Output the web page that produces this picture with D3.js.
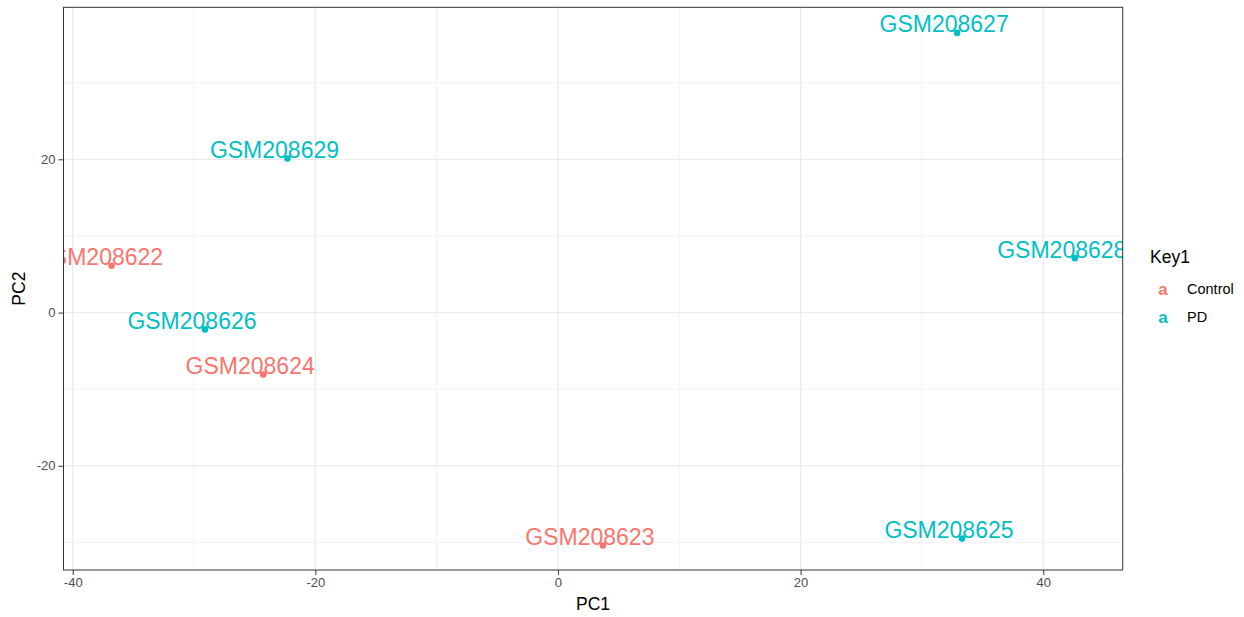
<!DOCTYPE html>
<html>
<head>
<meta charset="utf-8">
<script src="https://cdn.jsdelivr.net/npm/d3@7"></script>
<style>
  body { margin: 0; background: #fff; }
  text { font-family: "Liberation Sans", Arial, sans-serif; }
</style>
</head>
<body>
<svg id="chart" width="1244" height="617"></svg>
<script>
// sample data
var samples = ["GSM208629", "GSM208622", "GSM208626", "GSM208624", "GSM208623", "GSM208627", "GSM208628", "GSM208625"];
var groups  = ["PD", "Control", "PD", "Control", "Control", "PD", "PD", "PD"];
var pc1 = [-22.3, -36.8, -29.1, -24.3, 3.7, 32.9, 42.6, 33.3];
var pc2 = [20.1, 6.1, -2.2, -8.1, -30.4, 36.5, 7.1, -29.5];

var xTicks = [-40, -20, 0, 20, 40];
var yTicks = [-20, 0, 20];
var xMinor = [-30, -10, 10, 30];
var yMinor = [-30, -10, 10, 30];

var keys = ["Control", "PD"];
var colors = ["#F8766D", "#00BFC4"];

var svg = d3.select("#chart");
var pLeft = 63.5, pRight = 1122.7, pTop = 7.3, pBottom = 570;

var x = d3.scaleLinear().domain([-40.76, 46.55]).range([pLeft, pRight]);
var y = d3.scaleLinear().domain([-33.6, 39.84]).range([pBottom, pTop]);
var color = d3.scaleOrdinal().domain(keys).range(colors);

var data = samples.map(function (s, i) {
    return { name: s, group: groups[i], pc1: pc1[i], pc2: pc2[i] };
});

svg.append("defs").append("clipPath").attr("id", "panel")
    .append("rect")
    .attr("x", pLeft).attr("y", pTop)
    .attr("width", pRight - pLeft).attr("height", pBottom - pTop);

// grid
var grid = svg.append("g");
grid.selectAll(".xminor").data(xMinor).enter().append("line")
    .attr("x1", d => x(d)).attr("x2", d => x(d))
    .attr("y1", pTop).attr("y2", pBottom)
    .attr("stroke", "#f3f3f3").attr("stroke-width", 1);
grid.selectAll(".yminor").data(yMinor).enter().append("line")
    .attr("y1", d => y(d)).attr("y2", d => y(d))
    .attr("x1", pLeft).attr("x2", pRight)
    .attr("stroke", "#f3f3f3").attr("stroke-width", 1);
grid.selectAll(".xmajor").data(xTicks).enter().append("line")
    .attr("x1", d => x(d)).attr("x2", d => x(d))
    .attr("y1", pTop).attr("y2", pBottom)
    .attr("stroke", "#ebebeb").attr("stroke-width", 1.3);
grid.selectAll(".ymajor").data(yTicks).enter().append("line")
    .attr("y1", d => y(d)).attr("y2", d => y(d))
    .attr("x1", pLeft).attr("x2", pRight)
    .attr("stroke", "#ebebeb").attr("stroke-width", 1.3);

// points and labels
var plot = svg.append("g").attr("clip-path", "url(#panel)");
plot.selectAll("circle").data(data).enter().append("circle")
    .attr("cx", d => x(d.pc1)).attr("cy", d => y(d.pc2))
    .attr("r", 3.3)
    .attr("fill", d => color(d.group));
plot.selectAll("text").data(data).enter().append("text")
    .attr("x", d => x(d.pc1) - 13)
    .attr("y", d => y(d.pc2) - 0.5)
    .attr("text-anchor", "middle")
    .attr("font-size", 23)
    .attr("fill", d => color(d.group))
    .text(d => d.name);

// panel border
svg.append("rect")
    .attr("x", pLeft).attr("y", pTop)
    .attr("width", pRight - pLeft).attr("height", pBottom - pTop)
    .attr("fill", "none").attr("stroke", "#333").attr("stroke-width", 1);

// axes
var xAxis = svg.append("g")
    .attr("transform", "translate(0," + pBottom + ")")
    .call(d3.axisBottom(x).tickValues(xTicks).tickSize(5).tickPadding(3).tickFormat(d => String(d)));
var yAxis = svg.append("g")
    .attr("transform", "translate(" + pLeft + ",0)")
    .call(d3.axisLeft(y).tickValues(yTicks).tickSize(5).tickPadding(3).tickFormat(d => String(d)));
[xAxis, yAxis].forEach(function (a) {
    a.select(".domain").remove();
    a.selectAll(".tick line").attr("stroke", "#333");
    a.selectAll(".tick text").attr("fill", "#4d4d4d").attr("font-size", 13)
        .style("font-family", "'Liberation Sans', Arial, sans-serif");
});

svg.append("text")
    .attr("x", (pLeft + pRight) / 2).attr("y", 610)
    .attr("text-anchor", "middle").attr("font-size", 17.5).attr("fill", "#000")
    .text("PC1");
svg.append("text")
    .attr("transform", "translate(25," + ((pTop + pBottom) / 2) + ") rotate(-90)")
    .attr("text-anchor", "middle").attr("font-size", 17.5).attr("fill", "#000")
    .text("PC2");

// legend
var legend = svg.append("g");
legend.append("text")
    .attr("x", 1150).attr("y", 263)
    .attr("font-size", 17.5).attr("fill", "#000")
    .text("Key1");
var items = legend.selectAll(".item").data(keys).enter().append("g")
    .attr("transform", (d, i) => "translate(0," + (295 + i * 27.7) + ")");
items.append("text")
    .attr("x", 1163).attr("text-anchor", "middle")
    .attr("font-size", 17).attr("font-weight", "bold")
    .attr("fill", d => color(d))
    .text("a");
items.append("text")
    .attr("x", 1187).attr("y", -1)
    .attr("font-size", 14.5).attr("fill", "#000")
    .text(d => d);
</script>
</body>
</html>
